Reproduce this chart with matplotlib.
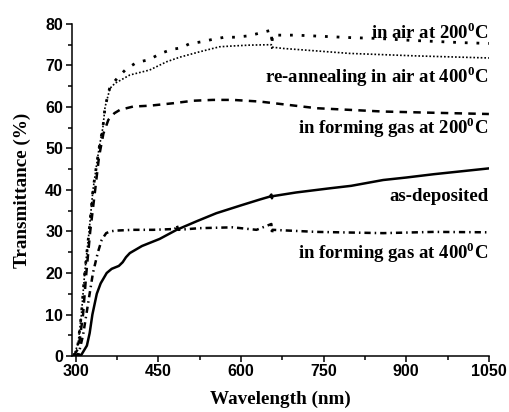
import numpy as np
import matplotlib
matplotlib.use("Agg")
import matplotlib.pyplot as plt

plt.rcParams['mathtext.fontset'] = 'custom'
plt.rcParams['mathtext.rm'] = 'Liberation Serif:bold'
plt.rcParams['mathtext.bf'] = 'Liberation Serif:bold'

# as-deposited
wl_asdep = [296, 310, 320, 325, 330, 338, 345, 356, 365, 378, 385, 391, 398, 420,
            452, 483, 520, 555, 600, 634, 652, 655, 656, 657, 700, 761, 800, 858,
            900, 950, 1000, 1050]
t_asdep = [0, 0.3, 2.5, 5.5, 10, 15, 17.5, 20, 21, 21.7, 22.6, 23.8, 24.8, 26.5,
           28.2, 30.4, 32.5, 34.4, 36.3, 37.7, 38.4, 38.9, 38.0, 38.5, 39.4, 40.4,
           41, 42.4, 43, 43.8, 44.5, 45.2]

# in forming gas at 400 C
wl_fg400 = [296, 305, 313, 319, 331, 340, 347, 355, 362, 371, 404, 440, 480, 483,
            486, 525, 585, 628, 655, 656, 657, 737, 858, 950, 1050]
t_fg400 = [0, 0.5, 5, 10, 20, 25, 28, 29.6, 30, 30.2, 30.4, 30.4, 30.6, 31.6, 30.4,
           30.8, 31.0, 30.4, 31.8, 29.4, 30.4, 29.9, 29.6, 29.9, 29.8]

# in forming gas at 200 C
wl_fg200 = [296, 305, 313, 319, 326, 335, 342, 350, 359, 370, 380, 404, 434, 477,
            513, 549, 585, 634, 737, 857, 950, 1050]
t_fg200 = [0, 2, 10, 20, 30, 40, 48, 53.6, 56.9, 58.5, 59.3, 60.1, 60.3, 60.9,
           61.5, 61.7, 61.7, 61.3, 59.7, 58.9, 58.6, 58.3]

# in air at 200 C
wl_air200 = [296, 304, 310, 316, 324, 331, 342, 349, 353, 362, 375, 391, 410, 433,
             454, 475, 490, 506, 528, 549, 570, 589, 611, 628, 655, 656, 657, 700,
             750, 800, 850, 900, 950, 1000, 1050]
t_air200 = [0, 3, 10, 20, 30, 40, 50, 55, 60, 64.9, 66.9, 69.1, 70.7, 71.4,
            72.9, 73.9, 74.2, 75.2, 75.7, 76.3, 76.8, 76.8, 77.1, 77.6, 78.5, 75.0,
            77.3, 77.3, 77.0, 76.7, 76.5, 76.1, 75.8, 75.5, 75.3]

# re-annealing in air at 400 C
wl_rean = [296, 304, 310, 316, 324, 331, 342, 349, 353, 362, 371, 398, 434, 465,
           489, 525, 561, 586, 616, 655, 656, 657, 676, 737, 797, 918, 1050]
t_rean = [0, 3, 10, 20, 30, 40, 50, 55, 60, 64.5, 65.7, 67.7, 68.9, 70.9, 72,
          73.3, 74.5, 74.7, 74.9, 75.0, 73.9, 74.4, 74.1, 73.5, 72.9, 72.3, 71.8]

labels = ['in air at 200$^{0}$C', 're-annealing in air at 400$^{0}$C',
          'in forming gas at 200$^{0}$C', 'as-deposited',
          'in forming gas at 400$^{0}$C']
label_y = [78.0, 67.3, 55.0, 38.5, 25.0]

fig = plt.figure(figsize=(5.09, 4.12), dpi=100)
ax = fig.add_axes([0.1415, 0.1359, 0.819, 0.806])

ax.plot(wl_asdep, t_asdep, color='k', lw=1.8)
ax.plot(wl_fg400, t_fg400, color='k', lw=1.8, ls=(0, (2.5, 1.6, 0.6, 1.6)))
ax.plot(wl_fg200, t_fg200, color='k', lw=1.8, ls=(0, (3, 2.5)))
ax.plot(wl_air200, t_air200, color='k', lw=2.0, ls=(0, (1, 3.2)))
ax.plot(wl_rean, t_rean, color='k', lw=1.2, ls=(0, (1, 1.2)))

for txt, yy in zip(labels, label_y):
    ax.text(1049, yy, txt, ha='right', va='center', fontsize=13.5,
            family='Liberation Serif', fontweight='bold')

ax.set_xlim(293, 1050)
ax.set_ylim(0, 80)
ax.set_xticks([300, 450, 600, 750, 900, 1050])
ax.set_xticks(np.arange(375, 1050, 150), minor=True)
ax.set_yticks(np.arange(0, 81, 10))
ax.set_yticks(np.arange(5, 80, 10), minor=True)

for s in ['top', 'right']:
    ax.spines[s].set_visible(False)
for s in ['left', 'bottom']:
    ax.spines[s].set_linewidth(1.1)

ax.tick_params(which='major', direction='out', length=4.5, width=1.1)
ax.tick_params(which='minor', direction='out', length=3, width=1.1)
ax.tick_params(axis='x', pad=1)
ax.tick_params(axis='y', pad=2)
for lab in ax.get_xticklabels() + ax.get_yticklabels():
    lab.set_family('Liberation Sans')
    lab.set_fontweight('bold')
    lab.set_fontsize(11.5)

ax.set_xlabel('Wavelength (nm)', family='Liberation Serif', fontweight='bold',
              fontsize=13.8, labelpad=9)
ax.set_ylabel('Transmittance (%)', family='Liberation Serif', fontweight='bold',
              fontsize=13.8, labelpad=10)

plt.savefig("out.png", dpi=100)
